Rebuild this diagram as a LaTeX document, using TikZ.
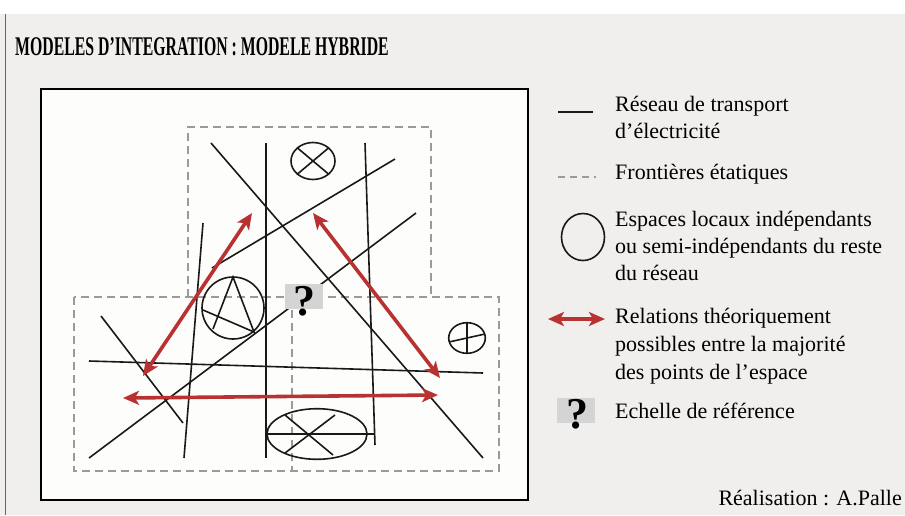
\documentclass[tikz,border=0pt]{standalone}
\usepackage{fontspec}
\setmainfont{Liberation Serif}
\newfontfamily\titlefont[FakeStretch=0.585]{Liberation Serif}
\usetikzlibrary{arrows.meta}

\definecolor{fond}{HTML}{F0EFED}
\definecolor{carte}{HTML}{FDFDFB}
\definecolor{rouge}{HTML}{B83232}
\definecolor{gristirets}{HTML}{9A9A9A}
\definecolor{grisechelle}{HTML}{D4D4D4}

\tikzset{
  reseau/.style={line width=1.6pt, black!90},
  frontiere/.style={line width=1.5pt, gristirets, dash pattern=on 8pt off 5pt},
  relation/.style={line width=3.6pt, rouge,
    {Stealth[length=16pt,width=14pt,inset=4pt]}-{Stealth[length=16pt,width=14pt,inset=4pt]}},
  legende/.style={anchor=base west, align=left, inner sep=0pt,
    font=\fontsize{22}{27}\selectfont},
  echelle/.style={fill=grisechelle, minimum width=38pt, minimum height=25pt, inner sep=0pt},
  interro/.style={inner sep=0pt, font=\fontsize{44}{44}\selectfont\bfseries}
}

\begin{document}
\begin{tikzpicture}[x=1pt,y=-1pt]
\useasboundingbox (0,0) rectangle (905,515);
\fill[white] (0,0) rectangle (905,14);
\fill[fond] (0,14) rectangle (905,515);
\draw[black!60, line width=0.8pt] (5.5,14) -- (5.5,515);

% titre
\node[anchor=base west, inner sep=0pt,
  font=\titlefont\bfseries\fontsize{27}{30}\selectfont] (titre) at (15,55)
  {MODELES D’INTEGRATION : MODELE HYBRIDE};

% carte
\draw[line width=2pt, fill=carte] (41,89) rectangle (528,500);

% frontieres etatiques
\draw[frontiere] (188,297) -- (188,127) -- (431,127) -- (431,297);
\draw[frontiere] (74,297) rectangle (499,471);
\draw[frontiere] (292,297) -- (292,471);

% reseau de transport
\draw[reseau] (211,143) -- (483,458);
\draw[reseau] (266,143) -- (266,458);
\draw[reseau] (365,143) -- (375,445);
\draw[reseau] (212,268) -- (395,159);
\draw[reseau] (89,458) -- (416,213);
\draw[reseau] (203,223) -- (184,458);
\draw[reseau] (101,316) -- (183,423);
\draw[reseau] (89,361) -- (483,373);
\draw[reseau] (266,434) -- (375,434);

% espaces locaux
\draw[reseau] (313,161) ellipse [x radius=22, y radius=18.5];
\draw[reseau] (297.4,147.9) -- (328.6,174.1);
\draw[reseau] (328.6,147.9) -- (297.4,174.1);

\draw[reseau] (233,308) circle [radius=31];
\draw[reseau] (213,329) -- (233,277) -- (254,332) -- (203,310);

\draw[reseau] (467,338) ellipse [x radius=18.3, y radius=15.3];
\draw[reseau] (467,322.7) -- (467,353.3);
\draw[reseau] (449,342) -- (485,334);

\draw[reseau] (317,434) ellipse [x radius=50, y radius=25.3];
\draw[reseau] (285,415) -- (333,455);
\draw[reseau] (335,415) -- (285,453);

% echelle de reference
\node[echelle] (echA) at (304,296.5) {};
\node[interro] (qA) at (304,301) {?};

% relations
\coordinate (gauche) at (143,376);
\coordinate (hautG) at (252,213);
\coordinate (hautD) at (313,213);
\coordinate (droite) at (440,378);
\coordinate (basG) at (123,398);
\coordinate (basD) at (438,395);
\draw[relation] (gauche) -- (hautG);
\draw[relation] (hautD) -- (droite);
\draw[relation] (basG) -- (basD);

% legende
\draw[reseau] (558,112) -- (593,112);
\node[legende] (legReseau) at (615,138) {Réseau de transport\\d’électricité};

\draw[frontiere, dash pattern=on 7pt off 5pt] (558,177) -- (596,177);
\node[legende] (legFront) at (615,179) {Frontières étatiques};

\draw[reseau] (583,237) ellipse [x radius=21.5, y radius=23.5];
\node[legende] (legEsp) at (615,280)
  {Espaces locaux indépendants\\ou semi-indépendants du reste\\du réseau};

\coordinate (legG) at (548,319);
\coordinate (legD) at (605,319);
\draw[relation] (legG) -- (legD);
\node[legende, font=\fontsize{22}{28}\selectfont] (legRel) at (615,379)
  {Relations théoriquement\\possibles entre la majorité\\des points de l’espace};

\node[echelle] (echB) at (576,410.5) {};
\node[interro] (qB) at (577,414) {?};
\node[legende] (legEch) at (615,418) {Echelle de référence};

\node[anchor=base east, inner sep=0pt, font=\fontsize{22}{27}\selectfont]
  (auteur) at (902,505) {Réalisation : A.Palle};
\end{tikzpicture}
\end{document}
